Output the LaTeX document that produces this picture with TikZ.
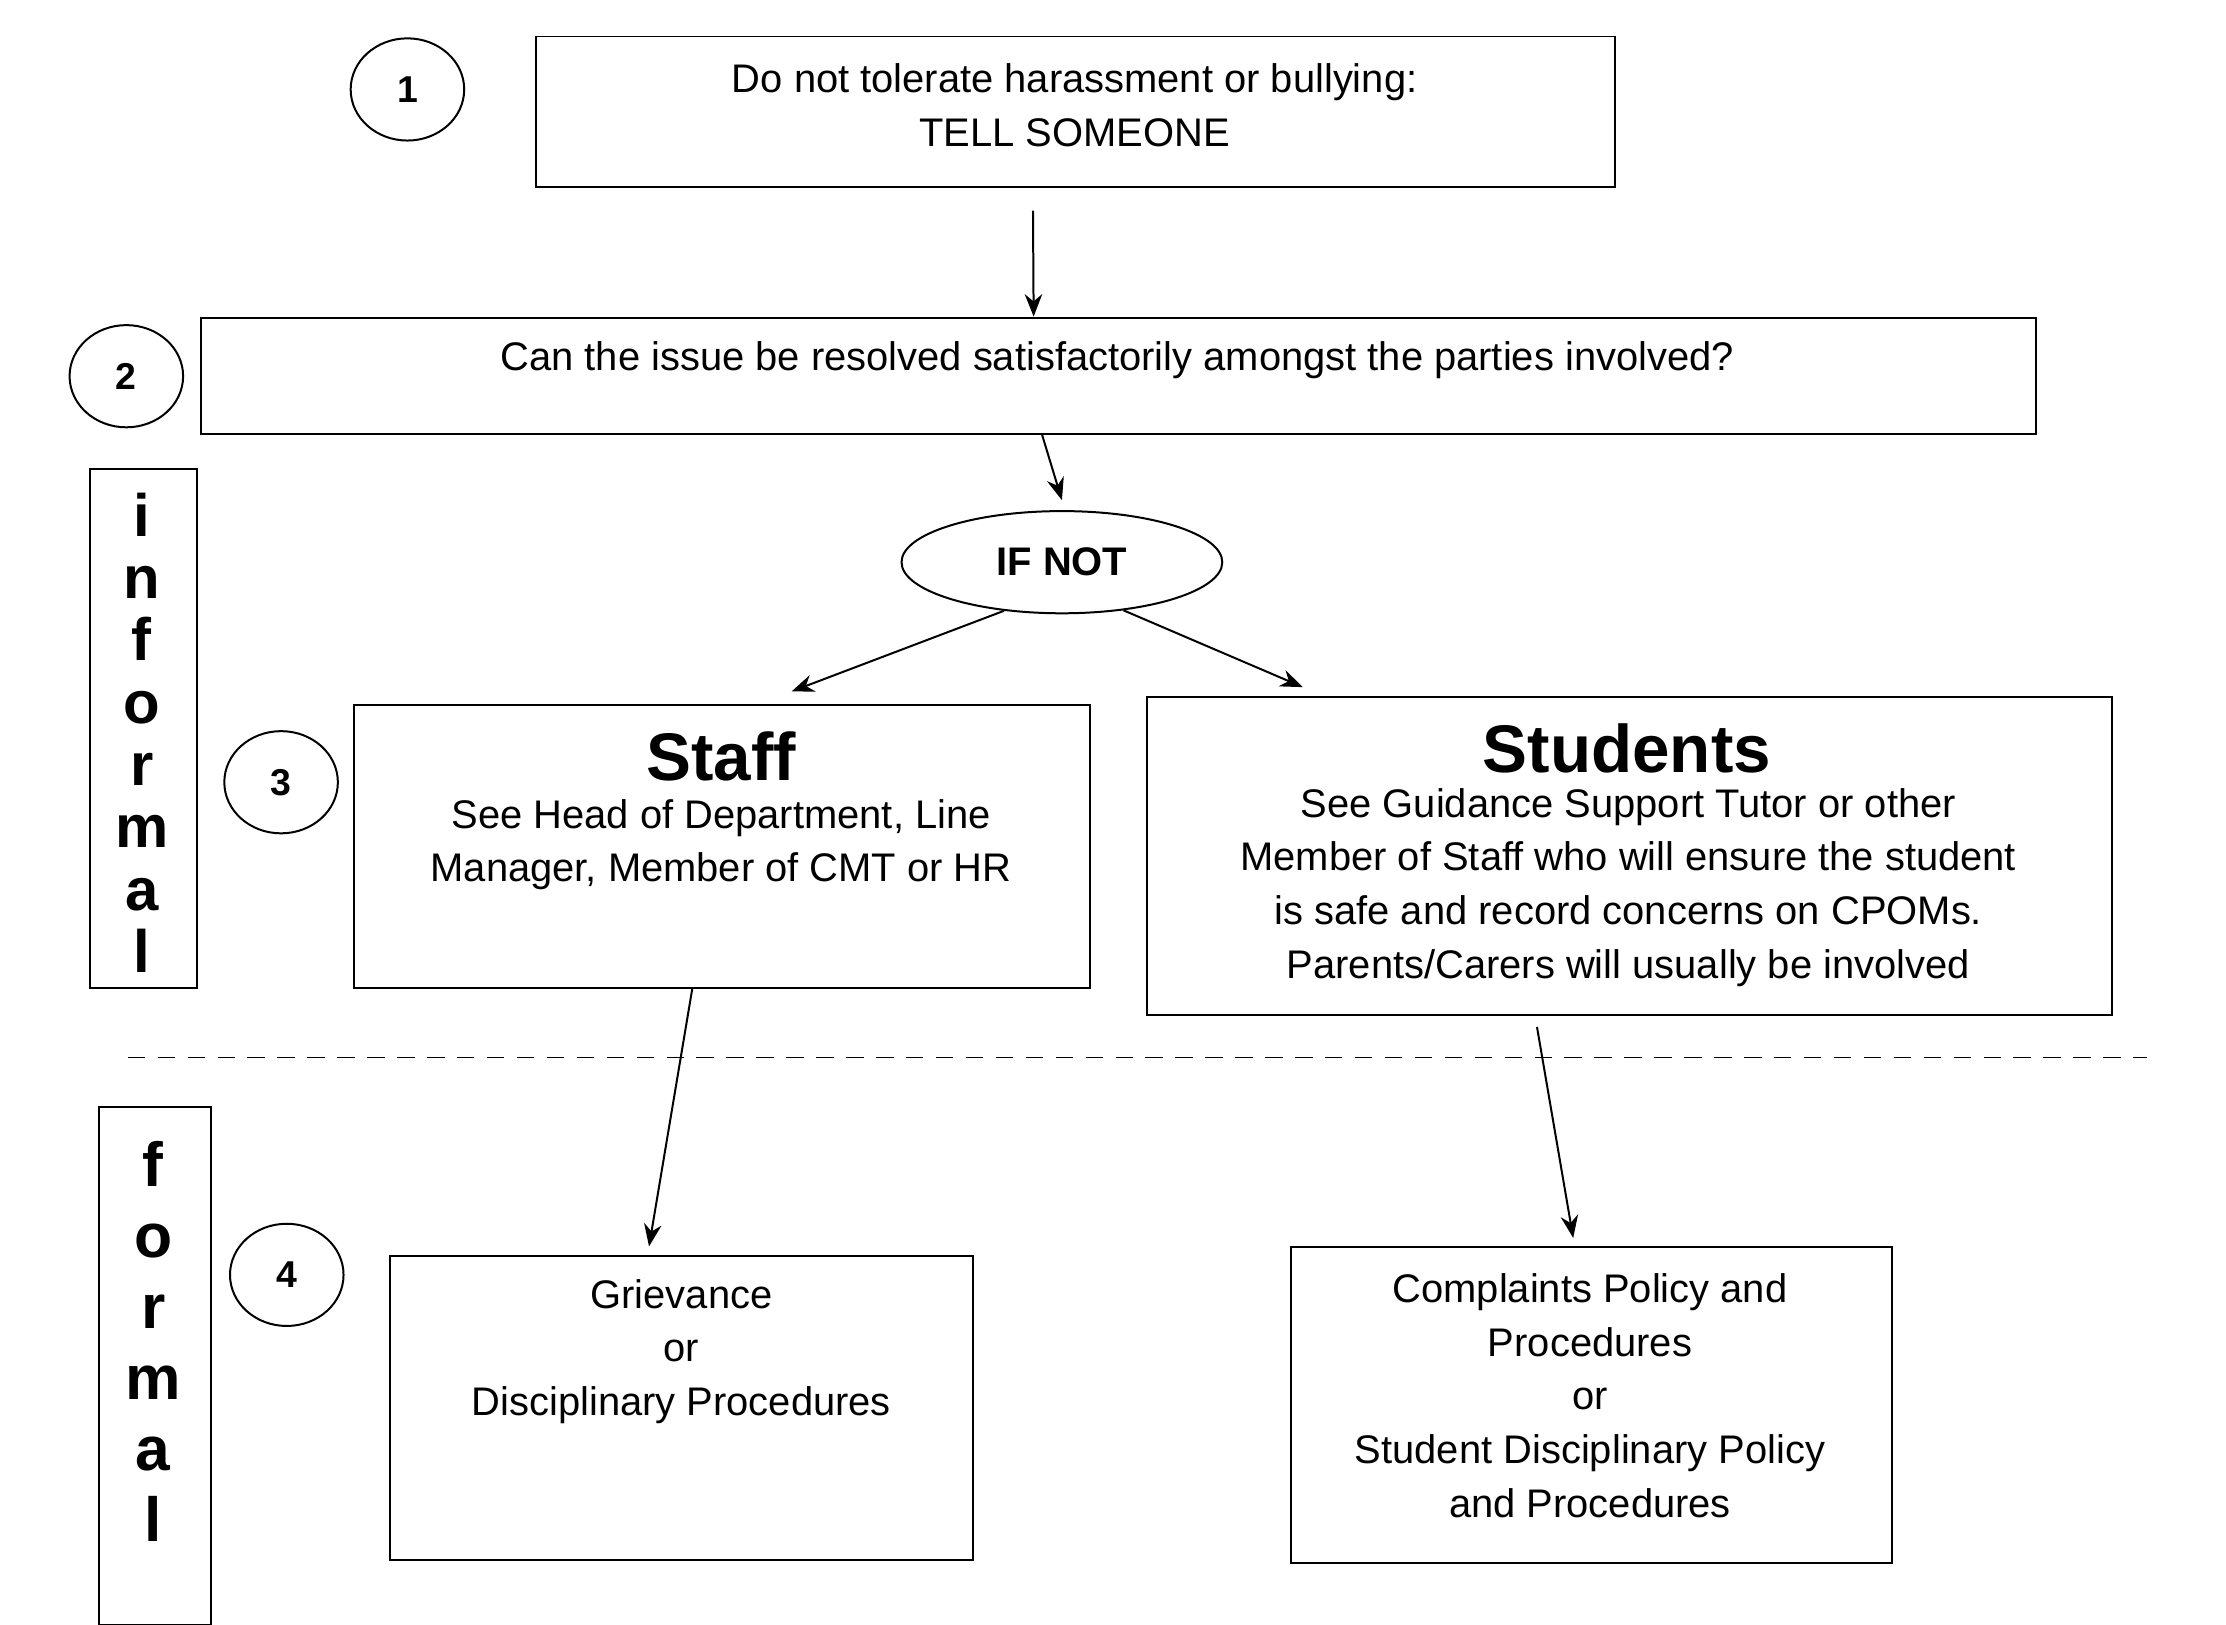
\documentclass[tikz,border=0pt]{standalone}
\usepackage{fontspec}
\setmainfont{Liberation Sans}
\usetikzlibrary{arrows.meta,shapes.geometric,positioning}
\tikzstyle{box}=[draw,thick,inner sep=0pt,anchor=north west]
\tikzstyle{num}=[draw,thick,ellipse,minimum width=1.6cm,minimum height=1.44cm,font=\bfseries\fontsize{15}{18}\selectfont]
\tikzstyle{txt}=[align=center,font=\fontsize{16}{21.5}\selectfont,inner sep=0pt]
\tikzstyle{side}=[align=center,font=\bfseries\fontsize{24}{25}\selectfont,inner sep=0pt]
\begin{document}
\begin{tikzpicture}[x=0.02cm,y=-0.02cm,>={Stealth[length=9pt,width=7pt]},thick]
	  \useasboundingbox (0,0) rectangle (1568,1144);
	  \node (c1) at (287,63) [num] {1};
	  \node (c2) at (89,265) [num] {2};
	  \node (c3) at (198,551) [num] {3};
	  \node (c4) at (202,898) [num] {4};
	  \node (tell) at (377,25) [box,minimum width=15.2cm,minimum height=2.12cm] {};
	  \node (tellt) at (757,74) [txt] {Do not tolerate harassment or bullying:\\TELL SOMEONE};
	  \node (ask) at (141,223) [box,minimum width=25.86cm,minimum height=1.64cm] {};
	  \node (askt) at (787,254) [txt] {Can the issue be resolved satisfactorily amongst the parties involved?};
	  \node (ifnot) at (748,396) [draw,thick,ellipse,minimum width=4.52cm,minimum height=1.44cm,font=\bfseries\fontsize{16}{20}\selectfont] {IF NOT};
	  \node (staff) at (249,496) [box,minimum width=10.36cm,minimum height=3.98cm] {};
	  \node (stafft) at (508,533) [txt,anchor=center] {\bfseries\fontsize{27}{30}\selectfont Staff};
	  \node (staffd) at (508,595) [txt] {See Head of Department, Line\\Manager, Member of CMT or HR};
	  \node (stud) at (807,490) [box,minimum width=13.6cm,minimum height=4.48cm] {};
	  \node (studt) at (1146,527) [txt] {\bfseries\fontsize{27}{30}\selectfont Students};
	  \node (studd) at (1147,625) [txt] {See Guidance Support Tutor or other\\Member of Staff who will ensure the student\\is safe and record concerns on CPOMs.\\Parents/Carers will usually be involved};
	  \node (griev) at (274,884) [box,minimum width=8.22cm,minimum height=4.28cm] {};
	  \node (grievt) at (480,952) [txt] {Grievance\\or\\Disciplinary Procedures};
	  \node (compl) at (909,878) [box,minimum width=8.46cm,minimum height=4.44cm] {};
	  \node (complt) at (1120,983) [txt] {Complaints Policy and\\Procedures\\or\\Student Disciplinary Policy\\and Procedures};
	  \node (inf) at (63,330) [box,minimum width=1.5cm,minimum height=7.3cm] {};
	  \node (inft) at (100,516) [side] {i\\n\\f\\o\\r\\m\\a\\l};
	  \node (form) at (69,779) [box,minimum width=1.58cm,minimum height=7.3cm] {};
	  \node (formt) at (108,945) [side,font=\bfseries\fontsize{25}{28.5}\selectfont] {f\\o\\r\\m\\a\\l};
	  \coordinate (d1) at (90,745);
	  \coordinate (d2) at (1512,745);
	  \draw [dashed,semithick,dash pattern=on 7pt off 5pt] (d1) -- (d2);
	  \draw [->] ([xshift=-0.6cm,yshift=-0.32cm]tell.south) -- ([xshift=-1.2cm]ask.north);
	  \draw [->] ([xshift=-1.08cm]ask.south) -- ([yshift=0.14cm]ifnot.north);
	  \draw [->] (ifnot.220) -- ([xshift=0.98cm,yshift=0.18cm]staff.north);
	  \draw [->] (ifnot.322) -- ([xshift=-4.6cm,yshift=0.12cm]stud.north);
	  \draw [->] ([xshift=-0.42cm]staff.south) -- ([xshift=-0.46cm,yshift=0.12cm]griev.north);
	  \draw [->] ([xshift=-1.3cm,yshift=-0.16cm]stud.south) -- ([xshift=-0.26cm,yshift=0.12cm]compl.north);
    %
    \end{tikzpicture}
\end{document}
